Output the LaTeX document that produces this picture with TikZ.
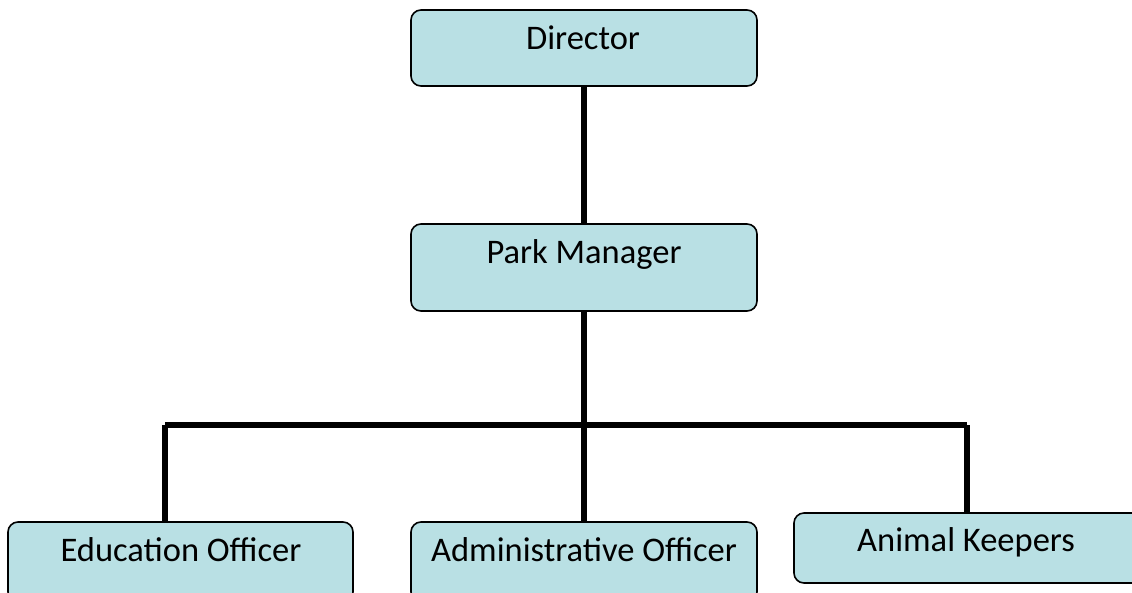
\documentclass[tikz,border=0pt]{standalone}
\usepackage{fontspec}
\setmainfont{Carlito}
\definecolor{boxfill}{RGB}{185,224,228}
\tikzset{
  orgbox/.style={draw=black, line width=1.6pt, fill=boxfill, rounded corners=10pt, rectangle, inner sep=0pt},
  lbl/.style={font=\fontsize{34.5}{41}\selectfont, inner sep=0pt, anchor=base},
  wire/.style={line width=5.5pt, draw=black}
}
\begin{document}
\begin{tikzpicture}[x=1pt,y=-1pt]
\useasboundingbox (0,0) rectangle (1132,592);
\fill[white] (0,0) rectangle (1132,592);
\node[orgbox, minimum width=346pt, minimum height=76pt] (dir) at (584,48) {};
\node[orgbox, minimum width=346pt, minimum height=87pt] (pm) at (584,267.5) {};
\node[orgbox, minimum width=345pt, minimum height=80pt] (edu) at (180.5,562) {};
\node[orgbox, minimum width=346pt, minimum height=80pt] (adm) at (584,562) {};
\node[orgbox, minimum width=352pt, minimum height=70pt] (ani) at (970,548) {};
\node[lbl] (tdir) at (583,49) {Director};
\node[lbl] (tpm) at (584,263) {Park Manager};
\node[lbl] (tedu) at (181,561) {Education Officer};
\node[lbl] (tadm) at (584,561) {Administrative Officer};
\node[lbl] (tani) at (966,551) {Animal Keepers};
\coordinate (hub) at (584,425);
\coordinate (hl) at (165,425);
\coordinate (hr) at (967,425);
\draw[wire] (dir.south) -- (pm.north);
\draw[wire] (pm.south) -- (hub);
\draw[wire] (hl) -- (hr);
\draw[wire] (hl) -- (hl |- edu.north);
\draw[wire] (hub) -- (adm.north);
\draw[wire] (hr) -- (hr |- ani.north);
\end{tikzpicture}
\end{document}
